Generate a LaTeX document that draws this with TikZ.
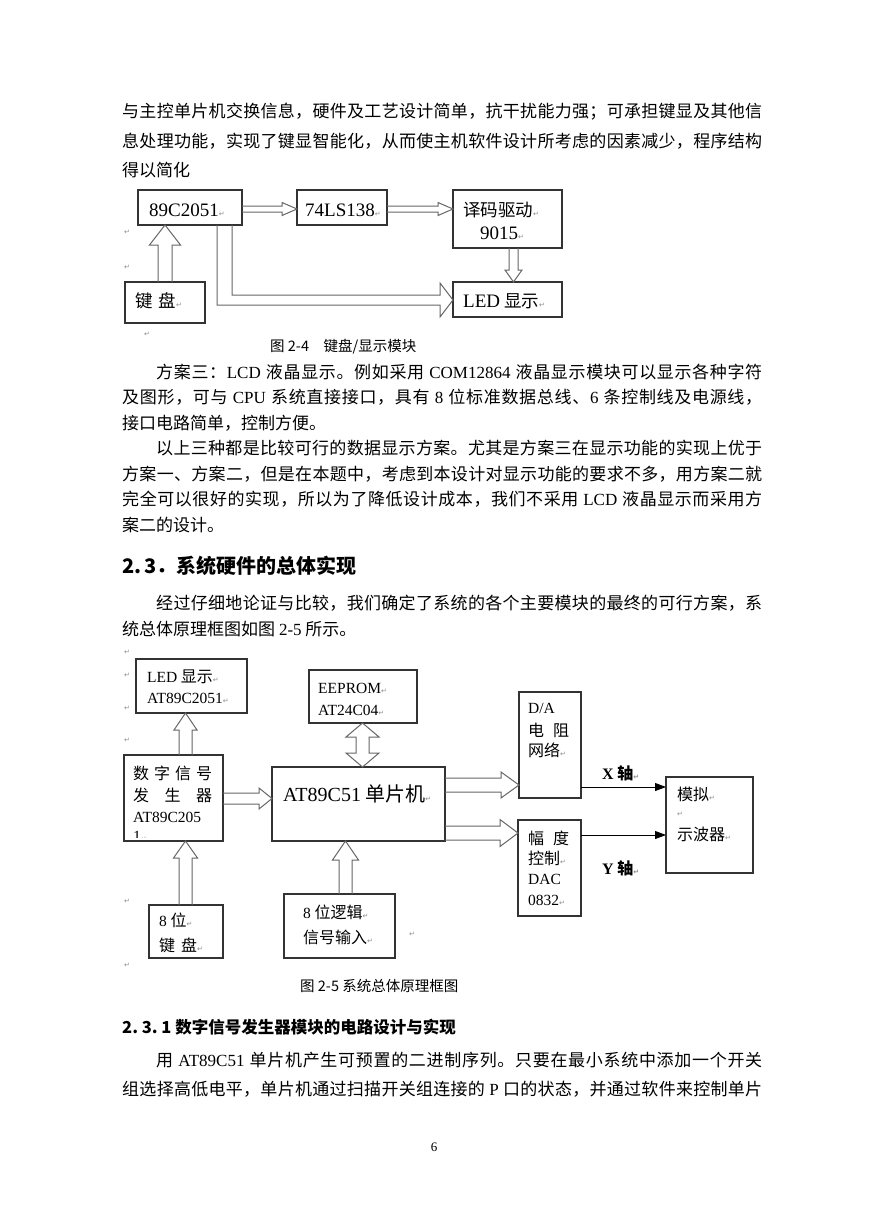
\documentclass[tikz,border=0pt]{standalone}
\usepackage{fontspec}
\setmainfont{Liberation Serif}
\newfontfamily\cjk{Noto Sans CJK SC}
\newfontfamily\sym{DejaVu Sans}
\usetikzlibrary{calc,arrows.meta}
\newcommand\en[1]{{\rmfamily #1}}
\newcommand\eA[1]{{\rmfamily\fontsize{19}{20}\selectfont #1}}
\newcommand\ret{{\sym\fontsize{7}{8}\selectfont\color{black!45}↵}}
\newcommand\bodyfont{\cjk\fontsize{17}{29}\selectfont}
% justified line: glue between every token
\def\spend{\spend}
\def\spa#1{#1\spx}
\def\spx#1{\ifx\spend#1\else\hskip 0pt plus 1fil #1\expandafter\spx\fi}
\newcommand\JL[2]{\hbox to #1{\spa #2\spend}}
% box: name, x1, y1, x2, y2 (image pixels)
\newcommand\bx[5]{\node[box, minimum width={#4-#2}, minimum height={#5-#3}] (#1) at ({(#2+#4)/2},{(#3+#5)/2}) {};}
% block arrows: start, tip, shaft half, head half, head length
\newcommand\harr[5]{\draw[blk] let \p1=#1, \p2=#2 in (\x1,\y1+#3) -- (\x2-#5,\y1+#3) -- (\x2-#5,\y1+#4) -- (\x2,\y1) -- (\x2-#5,\y1-#4) -- (\x2-#5,\y1-#3) -- (\x1,\y1-#3);}
\newcommand\uarr[5]{\draw[blk] let \p1=#1, \p2=#2 in (\x1-#3,\y1) -- (\x1-#3,\y2-#5) -- (\x1-#4,\y2-#5) -- (\x1,\y2) -- (\x1+#4,\y2-#5) -- (\x1+#3,\y2-#5) -- (\x1+#3,\y1);}
\newcommand\darr[5]{\draw[blk] let \p1=#1, \p2=#2 in (\x1-#3,\y1) -- (\x1-#3,\y2+#5) -- (\x1-#4,\y2+#5) -- (\x1,\y2) -- (\x1+#4,\y2+#5) -- (\x1+#3,\y2+#5) -- (\x1+#3,\y1);}
\newcommand\dvarr[5]{\draw[blk] let \p1=#1, \p2=#2 in (\x1,\y1) -- (\x1+#4,\y1-#5) -- (\x1+#3,\y1-#5) -- (\x1+#3,\y2+#5) -- (\x1+#4,\y2+#5) -- (\x1,\y2) -- (\x1-#4,\y2+#5) -- (\x1-#3,\y2+#5) -- (\x1-#3,\y1-#5) -- (\x1-#4,\y1-#5) -- cycle;}
\begin{document}
\begin{tikzpicture}[x=1pt,y=-1pt,
  box/.style={draw=black!80, line width=1.1pt, inner sep=0pt, outer sep=0pt},
  blk/.style={draw=black!60, line width=1pt, line join=miter},
  ax/.style={draw=black, line width=0.9pt, -{Triangle[length=11pt,width=8pt]}},
  fl/.style={anchor=west, inner sep=0pt, font=\bodyfont},
  nl/.style={anchor=west, inner sep=0pt, font=\bodyfont},
  ta/.style={anchor=west, inner sep=0pt, font=\cjk\fontsize{17.5}{20}\selectfont},
  tb/.style={anchor=west, inner sep=0pt, font=\cjk\fontsize{16}{18}\selectfont},
  rt/.style={anchor=west, inner sep=0pt},
  capt/.style={anchor=west, inner sep=0pt, font=\cjk\fontsize{14.5}{16}\selectfont}]
\fill[white] (0,0) rectangle (869,1228);
\useasboundingbox (0,0) rectangle (869,1228);

% ---- paragraph A
\node[fl] (A1) at (122,112) {\JL{640pt}{与主控单片机交换信息，硬件及工艺设计简单，抗干扰能力强；可承担键显及其他信}};
\node[fl] (A2) at (122,141) {\JL{640pt}{息处理功能，实现了键显智能化，从而使主机软件设计所考虑的因素减少，程序结构}};
\node[nl] (A3) at (122,170) {得以简化};

% ---- figure 2-4
\bx{c2051}{138}{190}{242}{225}
\bx{ls138}{297}{190}{387}{225}
\bx{dec}{453}{190}{562}{248}
\bx{kb1}{125}{282}{205}{323}
\bx{led1}{453}{282}{562}{317}
\node[ta] (c2051t) at (149,210) {\eA{89C2051}\ret};
\node[ta] (ls138t) at (305,210) {\eA{74LS138}\ret};
\node[ta] (dect1) at (463,210) {译码驱动\ret};
\node[ta] (dect2) at (480,233) {\eA{9015}\ret};
\node[ta] (kb1t) at (135,301) {键\hspace{6pt}盘\ret};
\node[ta] (led1t) at (463,301) {\eA{LED}~显示\ret};
\node[rt] (r1) at (124,232) {\ret};
\node[rt] (r2) at (124,267) {\ret};
\node[rt] (r3) at (144,334) {\ret};
\coordinate (a1) at (0,209);
\coordinate (a2) at (165,0);
\coordinate (a3) at (513.5,0);
\coordinate (a4) at (224.5,0);
\coordinate (a5) at (0,300);
\harr{(c2051.east |- a1)}{(ls138.west |- a1)}{3pt}{6.5pt}{15pt}
\harr{(ls138.east |- a1)}{(dec.west |- a1)}{3pt}{6.5pt}{15pt}
\uarr{(kb1.north -| a2)}{(c2051.south -| a2)}{7pt}{15.5pt}{20pt}
\darr{(dec.south -| a3)}{(led1.north -| a3)}{4.5pt}{8.5pt}{12pt}
\draw[blk] let \p1=(c2051.south -| a4), \p2=(led1.west |- a5) in
  (\x1-7.5pt,\y1) -- (\x1-7.5pt,\y2-5pt) -- (\x2-13pt,\y2-5pt) -- (\x2-13pt,\y2-17pt) -- (\x2,\y2)
  -- (\x2-13pt,\y2+17pt) -- (\x2-13pt,\y2+5pt) -- (\x1+7.5pt,\y2+5pt) -- (\x1+7.5pt,\y1);
\node[capt] (cap1) at (270,347) {图 2-4\quad 键盘/显示模块};

% ---- paragraph B
\node[fl] (B1) at (156,372) {\JL{606pt}{方案三：{\en{LCD}}~液晶显示。例如采用~{\en{COM12864}}~液晶显示模块可以显示各种字符}};
\node[fl] (B2) at (122,397.5) {\JL{640pt}{及图形，可与~{\en{CPU}}~系统直接接口，具有~{\en{8}}~位标准数据总线、{\en{6}}~条控制线及电源线，}};
\node[nl] (B3) at (122,423) {接口电路简单，控制方便。};
\node[fl] (B4) at (156,448.5) {\JL{606pt}{以上三种都是比较可行的数据显示方案。尤其是方案三在显示功能的实现上优于}};
\node[fl] (B5) at (122,474) {\JL{640pt}{方案一、方案二，但是在本题中，考虑到本设计对显示功能的要求不多，用方案二就}};
\node[fl] (B6) at (122,499.5) {\JL{640pt}{完全可以很好的实现，所以为了降低设计成本，我们不采用~{\en{LCD}}~液晶显示而采用方}};
\node[nl] (B7) at (122,525) {案二的设计。};

% ---- heading 2.3
\node[anchor=west, inner sep=0pt, font=\cjk\bfseries\fontsize{20}{24}\selectfont] (H1) at (122,566) {2.\,3．系统硬件的总体实现};
\node[fl] (C1) at (156,603) {\JL{606pt}{经过仔细地论证与比较，我们确定了系统的各个主要模块的最终的可行方案，系}};
\node[nl] (C2) at (122,629) {统总体原理框图如图~\en{2-5}~所示。};

% ---- figure 2-5
\bx{led2}{136}{659}{247}{713}
\bx{eep}{309}{670}{417}{723}
\bx{dsg}{124}{755}{223}{841}
\bx{mcu}{272}{767}{445}{841}
\bx{da}{519}{692}{581}{798}
\bx{amp}{518}{820}{581}{916}
\bx{osc}{666}{777}{753}{873}
\bx{kb2}{149}{905}{223}{958}
\bx{logic}{284}{894}{395}{958}
\node[tb] (led2t1) at (147,677) {\en{\fontsize{15.5}{18}\selectfont LED}~显示\ret};
\node[tb] (led2t2) at (147,698) {\en{\fontsize{15.5}{18}\selectfont AT89C2051}\ret};
\node[tb] (eept1) at (318,688) {\en{\fontsize{15.5}{18}\selectfont EEPROM}\ret};
\node[tb] (eept2) at (318,710) {\en{\fontsize{15.5}{18}\selectfont AT24C04}\ret};
\node[tb] (dsgt1) at (133,773) {\makebox[79pt][s]{数\hfil 字\hfil 信\hfil 号}};
\node[tb] (dsgt2) at (133,795) {\makebox[79pt][s]{发\hfil 生\hfil 器}};
\node[tb] (dsgt3) at (133,817) {\en{\fontsize{15.5}{18}\selectfont AT89C205}};
\begin{scope}
\clip (124,755) rectangle (223,837.5);
\node[tb] (dsgt4) at (133,836.5) {\en{\fontsize{15.5}{18}\selectfont 1}\ret};
\end{scope}
\node[anchor=west, inner sep=0pt, font=\cjk\fontsize{20}{22}\selectfont] (mcut) at (283,794) {\en{AT89C51}~单片机\ret};
\node[tb] (dat1) at (528,708) {\en{\fontsize{15.5}{18}\selectfont D/A}};
\node[tb] (dat2) at (528,730) {电\hspace{9pt}阻};
\node[tb] (dat3) at (528,750) {网络\ret};
\node[tb] (ampt1) at (528,838) {幅\hspace{9pt}度};
\node[tb] (ampt2) at (528,858) {控制\ret};
\node[tb] (ampt3) at (528,879) {\en{\fontsize{15.5}{18}\selectfont DAC}};
\node[tb] (ampt4) at (528,900) {\en{\fontsize{15.5}{18}\selectfont 0832}\ret};
\node[tb] (osct1) at (677,794) {模拟\ret};
\node[rt] (osct2) at (677,814) {\ret};
\node[tb] (osct3) at (677,834) {示波器\ret};
\node[tb] (kb2t1) at (159,920) {\en{\fontsize{15.5}{18}\selectfont 8}~位\ret};
\node[tb] (kb2t2) at (159,945) {键\hspace{6pt}盘\ret};
\node[tb] (logt1) at (303,912) {\en{\fontsize{15.5}{18}\selectfont 8}~位逻辑\ret};
\node[tb] (logt2) at (303,937) {信号输入\ret};
\node[tb, font=\cjk\bfseries\fontsize{16}{18}\selectfont] (xl) at (602,773) {\en{\bfseries X}~轴\ret};
\node[tb, font=\cjk\bfseries\fontsize{16}{18}\selectfont] (yl) at (602,868) {\en{\bfseries Y}~轴\ret};
\node[rt] (r4) at (124,652) {\ret};
\node[rt] (r5) at (124,675) {\ret};
\node[rt] (r6) at (124,708) {\ret};
\node[rt] (r7) at (124,740) {\ret};
\node[rt] (r8) at (124,901) {\ret};
\node[rt] (r9) at (124,965) {\ret};
\node[rt] (r10) at (409,934) {\ret};
\coordinate (b1) at (185.5,0);
\coordinate (b2) at (345.5,0);
\coordinate (b3) at (362.5,0);
\coordinate (b4) at (0,798.5);
\coordinate (b5) at (0,785);
\coordinate (b6) at (0,833);
\coordinate (b7) at (0,787);
\coordinate (b8) at (0,835);
\uarr{(dsg.north -| b1)}{(led2.south -| b1)}{6.5pt}{11.5pt}{17pt}
\uarr{(kb2.north -| b1)}{(dsg.south -| b1)}{6.5pt}{12pt}{17pt}
\uarr{(logic.north -| b2)}{(mcu.south -| b2)}{6.5pt}{13pt}{19pt}
\dvarr{(eep.south -| b3)}{(mcu.north -| b3)}{6.5pt}{16.5pt}{14pt}
\harr{(dsg.east |- b4)}{(mcu.west |- b4)}{5.5pt}{10.5pt}{13pt}
\harr{(mcu.east |- b5)}{(da.west |- b5)}{7pt}{13pt}{18pt}
\harr{(mcu.east |- b6)}{(amp.west |- b6)}{7pt}{13.5pt}{18pt}
\draw[ax] (da.east |- b7) -- (osc.west |- b7);
\draw[ax] (amp.east |- b8) -- (osc.west |- b8);
\node[capt] (cap2) at (300,986) {图 2-5 系统总体原理框图};

% ---- heading 2.3.1 and paragraph D
\node[anchor=west, inner sep=0pt, font=\cjk\bfseries\fontsize{16.5}{20}\selectfont] (H2) at (122,1027) {2.~3.~1 数字信号发生器模块的电路设计与实现};
\node[fl] (D1) at (156,1060) {\JL{606pt}{用~{\en{AT89C51}}~单片机产生可预置的二进制序列。只要在最小系统中添加一个开关}};
\node[fl] (D2) at (122,1089) {\JL{640pt}{组选择高低电平，单片机通过扫描开关组连接的~{\en{P}}~口的状态，并通过软件来控制单片}};
\node[anchor=center, inner sep=0pt, font=\rmfamily\fontsize{13}{14}\selectfont] (pg) at (434,1147) {6};
\end{tikzpicture}
\end{document}
